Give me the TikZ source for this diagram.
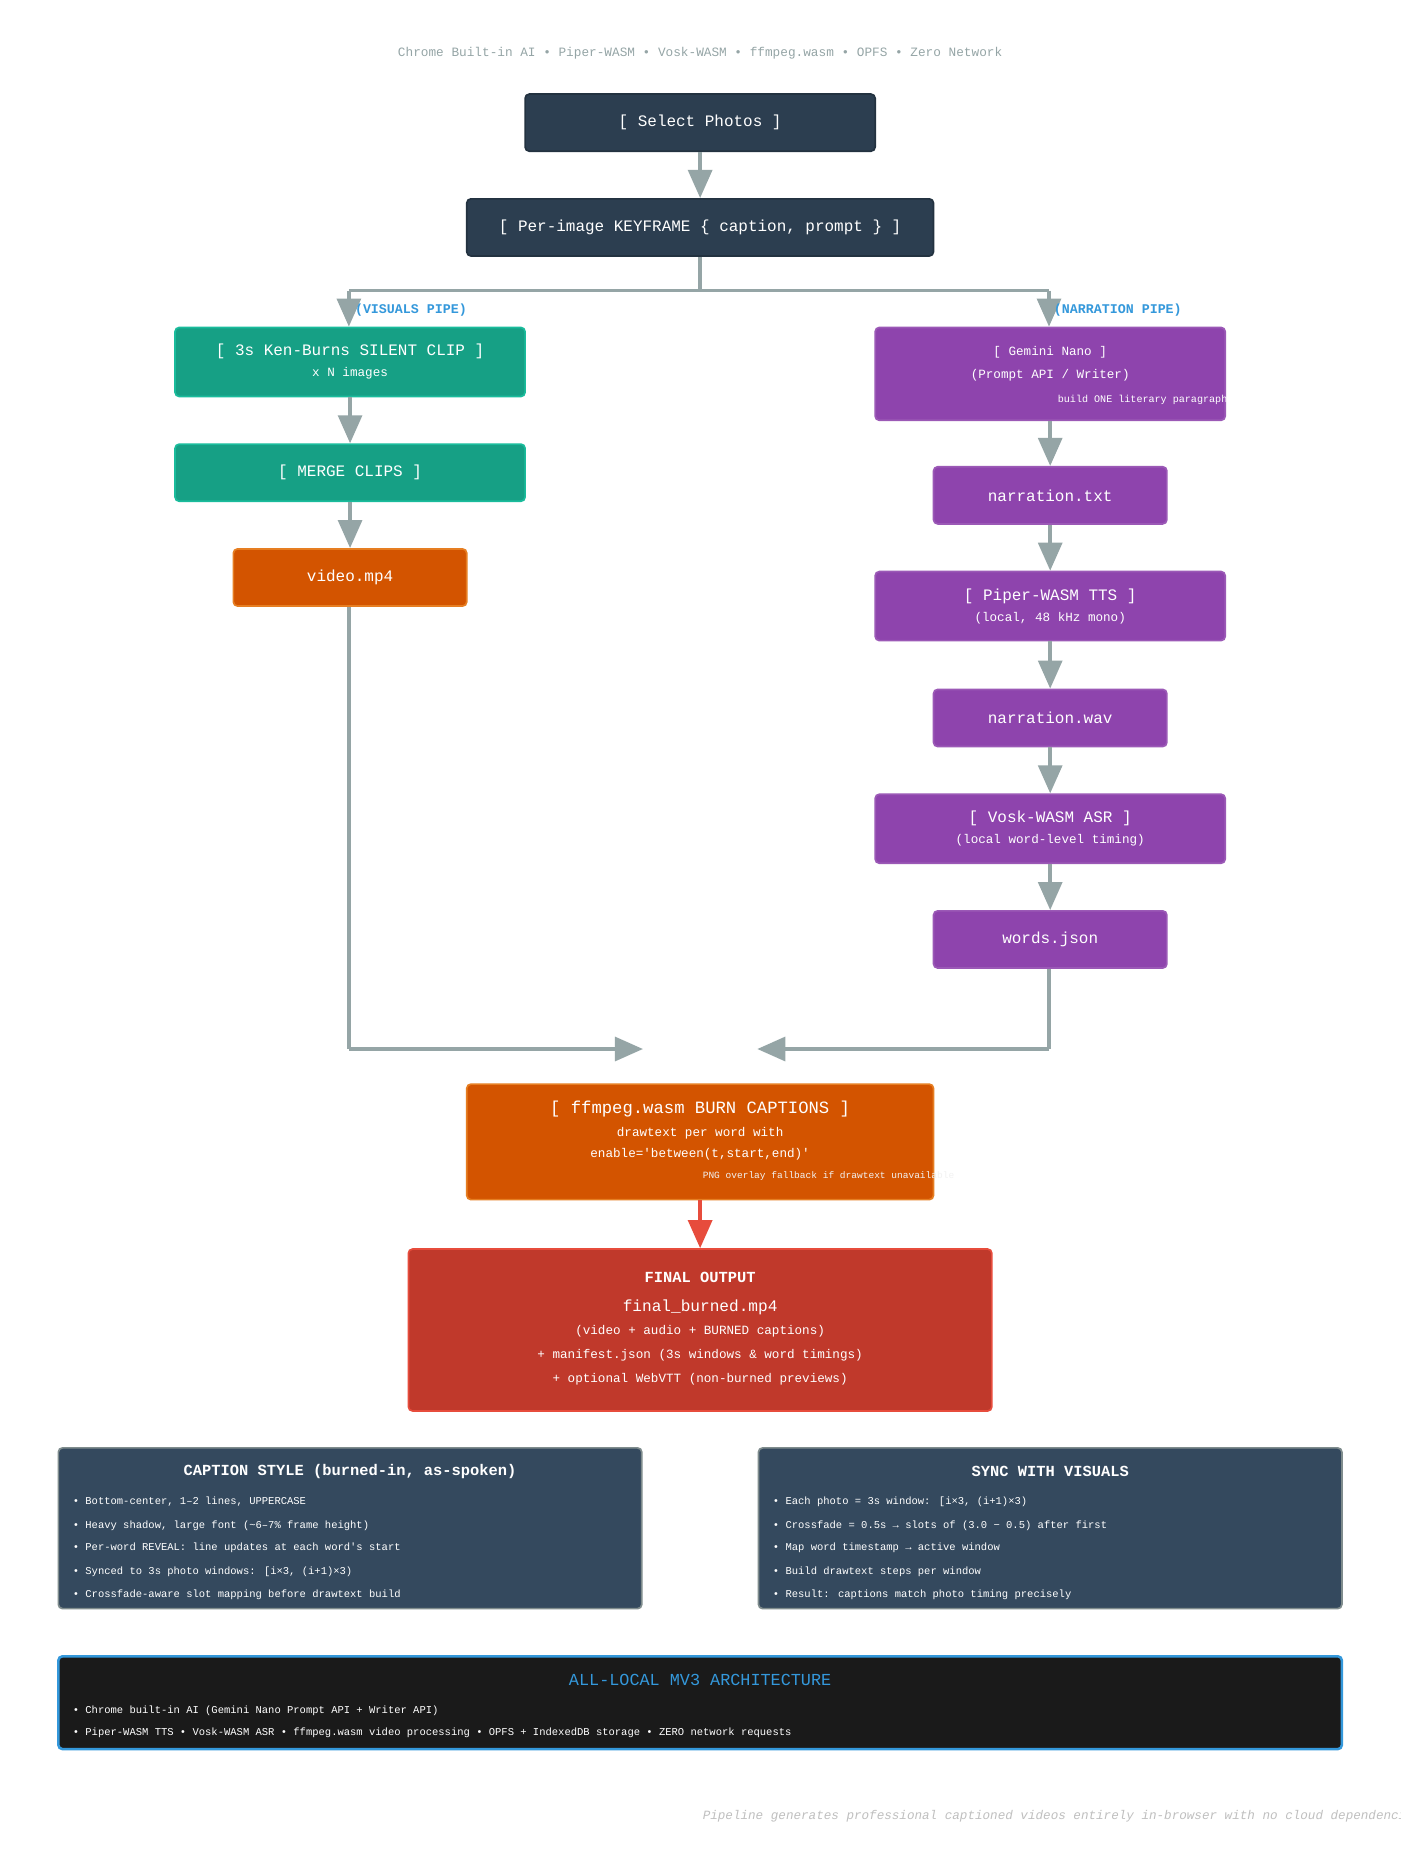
\documentclass[tikz,border=0pt]{standalone}
\usepackage{fontspec}
\setmainfont{Liberation Mono}
\usetikzlibrary{arrows.meta}
\definecolor{dark}{HTML}{2C3E50}
\definecolor{teal}{HTML}{16A085}
\definecolor{tealb}{HTML}{1ABC9C}
\definecolor{purp}{HTML}{8E44AD}
\definecolor{purpb}{HTML}{9B59B6}
\definecolor{orng}{HTML}{D35400}
\definecolor{orngb}{HTML}{E67E22}
\definecolor{redf}{HTML}{C0392B}
\definecolor{redb}{HTML}{E74C3C}
\definecolor{gry}{HTML}{95A5A6}
\definecolor{slate}{HTML}{34495E}
\definecolor{slateb}{HTML}{7F8C8D}
\definecolor{blu}{HTML}{3498DB}
\definecolor{blk}{HTML}{1A1A1A}
\tikzset{
 box/.style={draw, rounded corners=3pt, line width=1.2pt, text=white, align=center, inner sep=0pt, font=\fontsize{11.4}{17}\selectfont},
 dbox/.style={box, fill=dark, draw=dark!80!black},
 tbox/.style={box, fill=teal, draw=tealb},
 pbox/.style={box, fill=purp, draw=purpb},
 obox/.style={box, fill=orng, draw=orngb},
 conn/.style={draw=gry, line width=2.6pt, -{Triangle[length=20pt,width=17pt]}},
 line/.style={draw=gry, line width=2.6pt},
 sub/.style={font=\fontsize{9}{11}\selectfont},
 tiny/.style={text=white, font=\fontsize{7.2}{9}\selectfont},
 bul/.style={text=white, anchor=west, font=\fontsize{7.5}{9}\selectfont},
 lab/.style={text=blu, anchor=west, font=\bfseries\fontsize{9.5}{11}\selectfont},
}
\newcommand{\sq}{\textquotesingle}
\begin{document}
\begin{tikzpicture}[x=0.85pt,y=-0.85pt]
\useasboundingbox[fill=white] (0,0) rectangle (1176,1568);
\clip (0,0) rectangle (1176,1568);
\node[text=gry, font=\fontsize{9.1}{11}\selectfont] (subt) at (588,45) {Chrome Built-in AI • Piper-WASM • Vosk-WASM • ffmpeg.wasm • OPFS • Zero Network};

\node[dbox, minimum width=294*0.85pt, minimum height=48*0.85pt] (sel) at (588,103) {[ Select Photos ]};
\node[dbox, minimum width=392*0.85pt, minimum height=48*0.85pt] (key) at (588,191) {[ Per-image KEYFRAME \{ caption, prompt \} ]};

\coordinate (br) at (588,244);
\coordinate (bl) at (293,244);
\coordinate (brr) at (881,244);

\node[tbox, minimum width=294*0.85pt, minimum height=58*0.85pt] (ken) at (294,304) {[ 3s Ken-Burns SILENT CLIP ]\\[-2pt]{\fontsize{9}{11}\selectfont x N images}};
\node[tbox, minimum width=294*0.85pt, minimum height=48*0.85pt] (merge) at (294,397) {[ MERGE CLIPS ]};
\node[obox, minimum width=196*0.85pt, minimum height=48*0.85pt] (vid) at (294,485) {video.mp4};

\node[pbox, minimum width=294*0.85pt, minimum height=78*0.85pt] (gem) at (882,314) {};
\node[text=white, sub] (gem1) at (882,296) {[ Gemini Nano ]};
\node[text=white, sub] (gem2) at (882,315) {(Prompt API / Writer)};
\node[tiny, anchor=east, inner sep=0pt] (gem3) at (1031,336) {build ONE literary paragraph};
\node[pbox, minimum width=196*0.85pt, minimum height=48*0.85pt] (ntxt) at (882,416) {narration.txt};
\node[pbox, minimum width=294*0.85pt, minimum height=58*0.85pt] (piper) at (882,509) {[ Piper-WASM TTS ]\\[-2pt]{\fontsize{9}{11}\selectfont (local, 48 kHz mono)}};
\node[pbox, minimum width=196*0.85pt, minimum height=48*0.85pt] (nwav) at (882,603) {narration.wav};
\node[pbox, minimum width=294*0.85pt, minimum height=58*0.85pt] (vosk) at (882,696) {[ Vosk-WASM ASR ]\\[-2pt]{\fontsize{9}{11}\selectfont (local word-level timing)}};
\node[pbox, minimum width=196*0.85pt, minimum height=48*0.85pt] (words) at (882,789) {words.json};

\coordinate (vl) at (293,881);
\coordinate (vle) at (540,881);
\coordinate (wr) at (881,881);
\coordinate (wre) at (636,881);

\node[obox, minimum width=392*0.85pt, minimum height=97*0.85pt] (ff) at (588,959) {};
\node[text=white, font=\fontsize{12.3}{14}\selectfont] (ff1) at (588,931) {[ ffmpeg.wasm BURN CAPTIONS ]};
\node[text=white, sub] (ff2) at (588,952) {drawtext per word with};
\node[text=white, sub] (ff3) at (588,969) {enable=\sq between(t,start,end)\sq};
\node[text=white!90!gray, anchor=west, inner sep=0pt, font=\fontsize{6.8}{8}\selectfont] (ff4) at (590,988) {PNG overlay fallback if drawtext unavailable};

\node[box, fill=redf, draw=redb, minimum width=490*0.85pt, minimum height=136*0.85pt] (fin) at (588,1117) {};
\node[text=white, font=\bfseries\fontsize{11}{13}\selectfont] (fin1) at (588,1073) {FINAL OUTPUT};
\node[text=white, font=\fontsize{11.5}{13}\selectfont] (fin2) at (588,1098) {final\_burned.mp4};
\node[text=white, sub] (fin3) at (588,1118) {(video + audio + BURNED captions)};
\node[text=white, sub] (fin4) at (588,1138) {+ manifest.json (3s windows \& word timings)};
\node[text=white, sub] (fin5) at (588,1158) {+ optional WebVTT (non-burned previews)};

% connectors
\draw[conn] (sel) -- (key);
\draw[line] (key.south) -- (br);
\draw[line] (bl) -- (brr);
\draw[conn] (bl) -- (ken.north -| bl);
\draw[conn] (brr) -- (gem.north -| brr);
\node[lab] (vlab) at (294,260) {(VISUALS PIPE)};
\node[lab] (nlab) at (881,260) {(NARRATION PIPE)};
\draw[conn] (ken) -- (merge);
\draw[conn] (merge) -- (vid);
\draw[conn] (gem) -- (ntxt);
\draw[conn] (ntxt) -- (piper);
\draw[conn] (piper) -- (nwav);
\draw[conn] (nwav) -- (vosk);
\draw[conn] (vosk) -- (words);
\draw[line] (vid.south -| vl) -- (vl);
\draw[conn] (vl) -- (vle);
\draw[line] (words.south -| wr) -- (wr);
\draw[conn] (wr) -- (wre);
\draw[draw=redb, line width=2.6pt, -{Triangle[length=20pt,width=17pt]}] (ff) -- (fin);

% info boxes
\node[box, fill=slate, draw=slateb, minimum width=490*0.85pt, minimum height=135*0.85pt] (cap) at (294,1283.5) {};
\node[text=white, font=\bfseries\fontsize{11}{13}\selectfont] (capt) at (294,1236) {CAPTION STYLE (burned-in, as-spoken)};
\node[bul] (c1) at (57,1261) {• Bottom-center, 1–2 lines, UPPERCASE};
\node[bul] (c2) at (57,1281) {• Heavy shadow, large font (\textasciitilde6–7\% frame height)};
\node[bul] (c3) at (57,1300) {• Per-word REVEAL: line updates at each word\sq s start};
\node[bul] (c4) at (57,1320) {• Synced to 3s photo windows: [i×3, (i+1)×3)};
\node[bul] (c5) at (57,1339) {• Crossfade-aware slot mapping before drawtext build};

\node[box, fill=slate, draw=slateb, minimum width=490*0.85pt, minimum height=135*0.85pt] (sync) at (882,1283.5) {};
\node[text=white, font=\bfseries\fontsize{11}{13}\selectfont] (synct) at (882,1236) {SYNC WITH VISUALS};
\node[bul] (s1) at (645,1261) {• Each photo = 3s window: [i×3, (i+1)×3)};
\node[bul] (s2) at (645,1281) {• Crossfade = 0.5s → slots of (3.0 − 0.5) after first};
\node[bul] (s3) at (645,1300) {• Map word timestamp → active window};
\node[bul] (s4) at (645,1320) {• Build drawtext steps per window};
\node[bul] (s5) at (645,1339) {• Result: captions match photo timing precisely};

\node[box, fill=blk, draw=blu, line width=1.8pt, minimum width=1078*0.85pt, minimum height=78*0.85pt] (arch) at (588,1430) {};
\node[text=blu, font=\fontsize{12}{14}\selectfont] (archt) at (588,1411) {ALL-LOCAL MV3 ARCHITECTURE};
\node[bul] (a1) at (57,1437) {• Chrome built-in AI (Gemini Nano Prompt API + Writer API)};
\node[bul] (a2) at (57,1455) {• Piper-WASM TTS • Vosk-WASM ASR • ffmpeg.wasm video processing • OPFS + IndexedDB storage • ZERO network requests};

\node[text=gray!50, anchor=west, inner sep=0pt, font=\itshape\fontsize{9}{11}\selectfont] (foot) at (590,1525) {Pipeline generates professional captioned videos entirely in-browser with no cloud dependencies};
\end{tikzpicture}
\end{document}
